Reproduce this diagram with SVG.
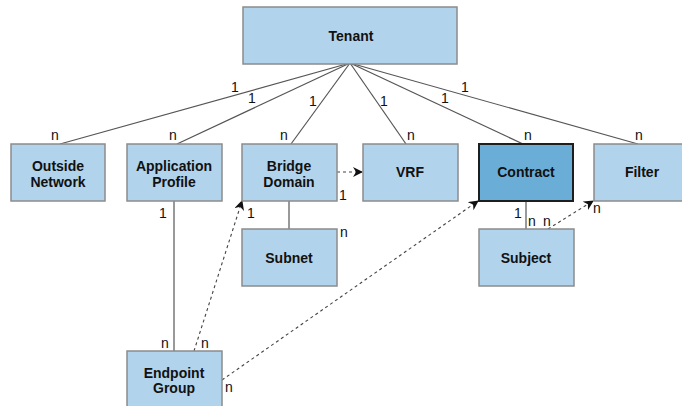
<svg xmlns="http://www.w3.org/2000/svg" width="682" height="406" viewBox="0 0 682 406">
<defs>
<style>
.box{fill:#b2d3ec;stroke:#8c8c8c;stroke-width:1.5}
.dark{fill:#6aaed8;stroke:#1e1e1e;stroke-width:2}
.lbl{font-family:"Liberation Sans",Arial,sans-serif;font-weight:bold;font-size:14px;fill:#111;text-anchor:middle}
.m{font-family:"Liberation Sans",Arial,sans-serif;font-size:14px;fill:#111;text-anchor:middle}
.ln{stroke:#555;stroke-width:1.2;fill:none}
.dash{stroke:#444;stroke-width:1.1;fill:none;stroke-dasharray:3,3}
</style>
<marker id="ah" viewBox="0 0 10 10" refX="9" refY="5" markerWidth="10" markerHeight="10" markerUnits="userSpaceOnUse" orient="auto">
<path d="M0,0 L10,5 L0,10 L3,5 Z" fill="#111"/>
</marker>
</defs>
<rect width="682" height="406" fill="#fff"/>
<g id="connectors">
<line class="ln" x1="350" y1="63" x2="60" y2="144"/>
<line class="ln" x1="350" y1="63" x2="177" y2="144"/>
<line class="ln" x1="350" y1="63" x2="291" y2="144"/>
<line class="ln" x1="350" y1="63" x2="406" y2="144"/>
<line class="ln" x1="350" y1="63" x2="523" y2="144"/>
<line class="ln" x1="350" y1="63" x2="638" y2="144"/>
<line class="ln" x1="174" y1="201" x2="174" y2="351"/>
<line class="ln" x1="289" y1="201" x2="289" y2="229"/>
<line class="ln" x1="526" y1="201" x2="526" y2="229"/>
<line class="dash" x1="337" y1="172" x2="362" y2="172" marker-end="url(#ah)"/>
<line class="dash" x1="194" y1="351" x2="242" y2="201" marker-end="url(#ah)"/>
<line class="dash" x1="222" y1="380" x2="478" y2="201" marker-end="url(#ah)"/>
<line class="dash" x1="548" y1="229" x2="593" y2="201" marker-end="url(#ah)"/>
<text class="m" x="235" y="92">1</text>
<text class="m" x="252" y="103">1</text>
<text class="m" x="313" y="106">1</text>
<text class="m" x="384" y="106">1</text>
<text class="m" x="445" y="103">1</text>
<text class="m" x="465" y="92">1</text>
<text class="m" x="55" y="140">n</text>
<text class="m" x="173" y="140">n</text>
<text class="m" x="284" y="140">n</text>
<text class="m" x="411" y="140">n</text>
<text class="m" x="528" y="140">n</text>
<text class="m" x="639" y="140">n</text>
<text class="m" x="163" y="218">1</text>
<text class="m" x="251" y="218">1</text>
<text class="m" x="343" y="200">1</text>
<text class="m" x="344" y="237">n</text>
<text class="m" x="165" y="348">n</text>
<text class="m" x="205" y="348">n</text>
<text class="m" x="229" y="392">n</text>
<text class="m" x="518" y="218">1</text>
<text class="m" x="532" y="226">n</text>
<text class="m" x="547" y="226">n</text>
<text class="m" x="597" y="213">n</text>
</g>
<g id="tenant"><rect class="box" x="243" y="7" width="214" height="57"/><text class="lbl" x="351" y="41">Tenant</text></g>
<g id="outside-network"><rect class="box" x="11" y="144" width="94" height="57"/><text class="lbl" x="58" y="171">Outside</text><text class="lbl" x="58" y="187">Network</text></g>
<g id="application-profile"><rect class="box" x="127" y="144" width="95" height="57"/><text class="lbl" x="174" y="171">Application</text><text class="lbl" x="174" y="187">Profile</text></g>
<g id="bridge-domain"><rect class="box" x="242" y="144" width="95" height="57"/><text class="lbl" x="289" y="171">Bridge</text><text class="lbl" x="289" y="187">Domain</text></g>
<g id="vrf"><rect class="box" x="363" y="144" width="95" height="57"/><text class="lbl" x="410" y="177">VRF</text></g>
<g id="contract"><rect class="dark" x="479" y="144" width="94" height="57"/><text class="lbl" x="526" y="177">Contract</text></g>
<g id="filter"><rect class="box" x="594" y="144" width="95" height="57"/><text class="lbl" x="642" y="177">Filter</text></g>
<g id="subnet"><rect class="box" x="242" y="229" width="95" height="57"/><text class="lbl" x="289" y="263">Subnet</text></g>
<g id="subject"><rect class="box" x="479" y="229" width="95" height="57"/><text class="lbl" x="526" y="263">Subject</text></g>
<g id="endpoint-group"><rect class="box" x="127" y="351" width="95" height="57"/><text class="lbl" x="174" y="378">Endpoint</text><text class="lbl" x="174" y="393">Group</text></g>
</svg>
